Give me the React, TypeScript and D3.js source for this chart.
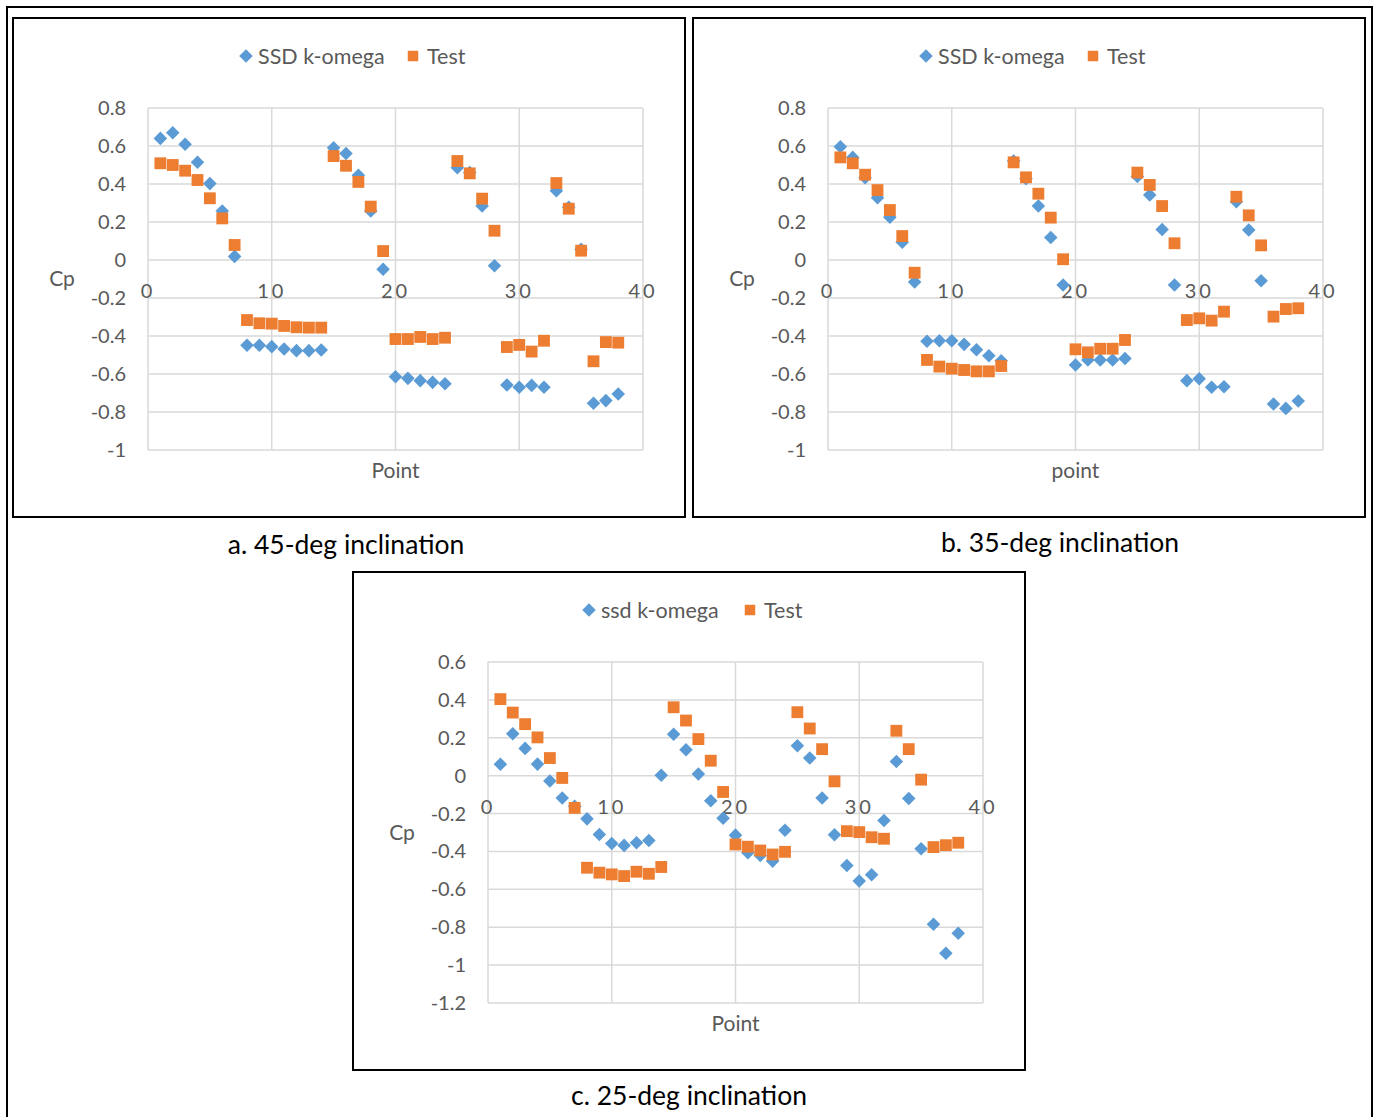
import * as d3 from "d3";

// x = pressure tap number 1..38
const points = d3.range(1, 39);

const xTicks = [0, 10, 20, 30, 40];
const yTicksAB = [0.8, 0.6, 0.4, 0.2, 0, -0.2, -0.4, -0.6, -0.8, -1];
const yTicksC = [0.6, 0.4, 0.2, 0, -0.2, -0.4, -0.6, -0.8, -1, -1.2];

// a. 45-deg inclination
const ssd45 = [
  0.64, 0.67, 0.609, 0.514, 0.402, 0.258, 0.019, -0.449, -0.449, -0.456,
  -0.468, -0.477, -0.477, -0.474, 0.591, 0.561, 0.446, 0.258, -0.049, -0.614,
  -0.623, -0.635, -0.644, -0.651, 0.486, 0.461, 0.284, -0.03, -0.658, -0.67,
  -0.66, -0.67, 0.365, 0.277, 0.056, -0.754, -0.74, -0.705,
];
const test45 = [
  0.509, 0.5, 0.47, 0.421, 0.325, 0.219, 0.079, -0.316, -0.333, -0.335,
  -0.347, -0.354, -0.356, -0.356, 0.547, 0.496, 0.411, 0.281, 0.047, -0.416,
  -0.416, -0.405, -0.416, -0.409, 0.521, 0.456, 0.323, 0.154, -0.458, -0.447,
  -0.482, -0.425, 0.405, 0.27, 0.049, -0.533, -0.432, -0.435,
];

// b. 35-deg inclination
const ssd35 = [
  0.596, 0.54, 0.433, 0.328, 0.225, 0.093, -0.116, -0.428, -0.425, -0.425,
  -0.444, -0.472, -0.504, -0.53, 0.521, 0.428, 0.284, 0.118, -0.132, -0.553,
  -0.526, -0.526, -0.526, -0.518, 0.439, 0.342, 0.161, -0.132, -0.635, -0.625,
  -0.67, -0.667, 0.307, 0.158, -0.109, -0.758, -0.781, -0.742,
];
const test35 = [
  0.54, 0.509, 0.449, 0.368, 0.263, 0.126, -0.067, -0.526, -0.561, -0.572,
  -0.579, -0.586, -0.586, -0.558, 0.514, 0.435, 0.349, 0.223, 0.004, -0.47,
  -0.486, -0.467, -0.467, -0.421, 0.46, 0.395, 0.284, 0.088, -0.316, -0.307,
  -0.319, -0.272, 0.333, 0.235, 0.077, -0.298, -0.258, -0.254,
];

// c. 25-deg inclination
const ssd25 = [
  0.06, 0.221, 0.144, 0.061, -0.028, -0.118, -0.161, -0.228, -0.311, -0.358,
  -0.368, -0.354, -0.342, 0.002, 0.219, 0.137, 0.009, -0.132, -0.225, -0.314,
  -0.407, -0.421, -0.451, -0.288, 0.158, 0.093, -0.118, -0.312, -0.474, -0.556,
  -0.523, -0.237, 0.075, -0.121, -0.386, -0.784, -0.937, -0.832,
];
const test25 = [
  0.404, 0.333, 0.272, 0.202, 0.093, -0.012, -0.17, -0.486, -0.512, -0.521,
  -0.53, -0.507, -0.518, -0.482, 0.361, 0.291, 0.193, 0.079, -0.086, -0.363,
  -0.375, -0.395, -0.416, -0.402, 0.335, 0.249, 0.14, -0.03, -0.293, -0.298,
  -0.325, -0.333, 0.237, 0.14, -0.021, -0.377, -0.367, -0.354,
];

const BLUE = "#5B9BD5";
const ORANGE = "#ED7D31";
const GRID = "#D9D9D9";
const TXT = "#595959";
const FONT = "Lato, 'Open Sans', sans-serif";

const diamondPath = d3.symbol(d3.symbolSquare, 92)()!;
const squarePath = d3.symbol(d3.symbolSquare, 140)()!;
const legendSquare = d3.symbol(d3.symbolSquare, 110)()!;

const fmt = (v: number) => String(+v.toFixed(1));

interface PanelProps {
  box: [number, number, number, number];
  plot: { left: number; right: number; top: number; bottom: number };
  yDomain: [number, number];
  yTicks: number[];
  ssd: number[];
  test: number[];
  ssdName: string;
  xLabel: string;
  legendX: number; // offset of the first legend marker from box centre
  legendGap: number; // diamond -> square distance
}

function Panel({ box, plot, yDomain, yTicks, ssd, test, ssdName, xLabel, legendX, legendGap }: PanelProps) {
  const x = d3.scaleLinear().domain([0, 40]).range([plot.left, plot.right]);
  const y = d3.scaleLinear().domain(yDomain).range([plot.bottom, plot.top]);
  const cx = (plot.left + plot.right) / 2;
  const midY = (plot.top + plot.bottom) / 2;
  const boxCx = box[0] + box[2] / 2;
  const legendY = box[1] + 38;
  return (
    <g>
      <rect x={box[0]} y={box[1]} width={box[2]} height={box[3]} fill="#fff" stroke="#000" strokeWidth={2} />
      {/* grid */}
      {yTicks.map((t) => (
        <line key={"h" + t} x1={plot.left} x2={plot.right} y1={y(t)} y2={y(t)} stroke={GRID} strokeWidth={1.5} />
      ))}
      {xTicks.map((t) => (
        <line key={"v" + t} x1={x(t)} x2={x(t)} y1={plot.top} y2={plot.bottom} stroke={GRID} strokeWidth={1.5} />
      ))}
      {/* y tick labels */}
      {yTicks.map((t) => (
        <text key={"yl" + t} x={plot.left - 22} y={y(t)} dy="0.35em" textAnchor="end" fontSize={20} fill={TXT} fontFamily={FONT}>
          {fmt(t)}
        </text>
      ))}
      {/* x tick labels sit just under the zero line */}
      {xTicks.map((t) => (
        <text key={"xl" + t} x={x(t)} y={y(0) + 31} dy="0.35em" textAnchor="middle" fontSize={20} letterSpacing={3} fill={TXT} fontFamily={FONT}>
          {t}
        </text>
      ))}
      {/* series */}
      {points.map((p, i) => (
        <path key={"s" + p} d={diamondPath} transform={`translate(${x(p)},${y(ssd[i])}) rotate(45)`} fill={BLUE} />
      ))}
      {points.map((p, i) => (
        <path key={"t" + p} d={squarePath} transform={`translate(${x(p)},${y(test[i])})`} fill={ORANGE} />
      ))}
      {/* axis titles */}
      <text x={box[0] + 49} y={midY} dy="0.35em" textAnchor="middle" fontSize={21} fill={TXT} fontFamily={FONT}>Cp</text>
      <text x={cx} y={plot.bottom + 21} dy="0.35em" textAnchor="middle" fontSize={21} fill={TXT} fontFamily={FONT}>{xLabel}</text>
      {/* legend */}
      <g transform={`translate(${boxCx + legendX},${legendY})`}>
        <path d={diamondPath} transform="rotate(45)" fill={BLUE} />
        <text x={12} dy="0.35em" fontSize={21.5} fill={TXT} fontFamily={FONT}>{ssdName}</text>
        <path d={legendSquare} transform={`translate(${legendGap},0)`} fill={ORANGE} />
        <text x={legendGap + 14} dy="0.35em" fontSize={21.5} fill={TXT} fontFamily={FONT}>Test</text>
      </g>
    </g>
  );
}

export default function App() {
  return (
    <svg width={1377} height={1117} style={{ position: "absolute", left: 0, top: 0, background: "#fff" }}>
      <rect x={7} y={7} width={1365} height={1130} fill="#fff" stroke="#000" strokeWidth={2} />
      <Panel
        box={[13, 18, 672, 499]}
        plot={{ left: 148, right: 643, top: 108, bottom: 450 }}
        yDomain={[-1, 0.8]}
        yTicks={yTicksAB}
        ssd={ssd45}
        test={test45}
        ssdName="SSD k-omega"
        xLabel="Point"
        legendX={-103}
        legendGap={167}
      />
      <Panel
        box={[693, 18, 672, 499]}
        plot={{ left: 828, right: 1323, top: 108, bottom: 450 }}
        yDomain={[-1, 0.8]}
        yTicks={yTicksAB}
        ssd={ssd35}
        test={test35}
        ssdName="SSD k-omega"
        xLabel="point"
        legendX={-103}
        legendGap={167}
      />
      <Panel
        box={[353, 572, 672, 498]}
        plot={{ left: 488, right: 983, top: 662, bottom: 1003 }}
        yDomain={[-1.2, 0.6]}
        yTicks={yTicksC}
        ssd={ssd25}
        test={test25}
        ssdName="ssd k-omega"
        xLabel="Point"
        legendX={-100}
        legendGap={161}
      />
      <text x={346} y={554} textAnchor="middle" fontSize={26.5} fill="#000" fontFamily={FONT}>a. 45-deg inclination</text>
      <text x={1060} y={552} textAnchor="middle" fontSize={26.5} fill="#000" fontFamily={FONT}>b. 35-deg inclination</text>
      <text x={689} y={1105} textAnchor="middle" fontSize={26.5} fill="#000" fontFamily={FONT}>c. 25-deg inclination</text>
    </svg>
  );
}
